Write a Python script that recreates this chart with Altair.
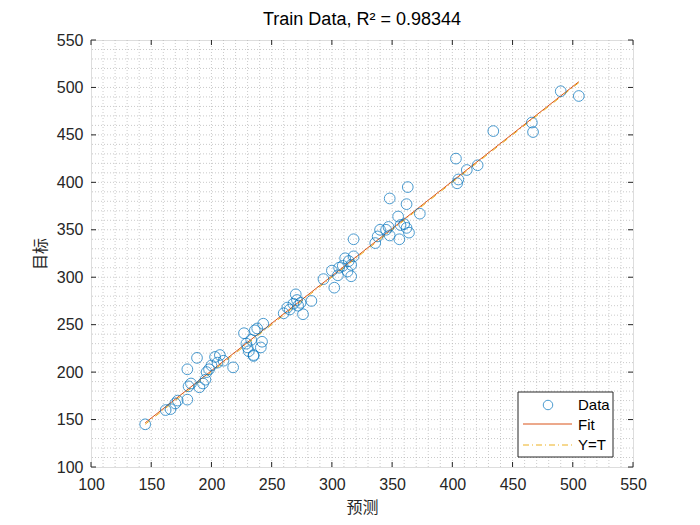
import altair as alt
import pandas as pd
import numpy as np

# ---- data ----
pred = [145, 162, 166, 170, 172, 180, 181, 183, 180, 188, 190, 193, 195, 196, 198,
        200, 203, 205, 207, 210, 218, 227, 229, 230, 231, 233, 235, 236, 238, 241,
        242, 243, 235, 260, 263, 265, 268, 270, 271, 272, 274, 276, 283, 293, 300,
        302, 305, 306, 309, 311, 313, 314, 316, 316, 318, 318, 336, 338, 340, 345,
        347, 348, 348, 355, 356, 357, 360, 362, 362, 363, 364, 373, 403, 404, 405,
        412, 421, 434, 466, 467, 490, 505]
target = [145, 160, 161, 167, 170, 171, 185, 188, 203, 215, 184, 188, 192, 200, 203,
          207, 216, 210, 218, 212, 205, 241, 230, 226, 222, 234, 218, 244, 246, 226,
          232, 251, 217, 262, 268, 266, 272, 282, 276, 270, 273, 261, 275, 298, 307,
          289, 302, 310, 312, 320, 306, 317, 301, 313, 322, 340, 336, 343, 350, 350,
          353, 383, 344, 364, 340, 355, 356, 352, 377, 395, 347, 367, 425, 399, 403,
          413, 418, 454, 463, 453, 496, 491]
major_ticks = [100, 150, 200, 250, 300, 350, 400, 450, 500, 550]
minor_grid = [110, 120, 130, 140, 150, 160, 170, 180, 190, 200, 210, 220, 230, 240,
              250, 260, 270, 280, 290, 300, 310, 320, 330, 340, 350, 360, 370, 380,
              390, 400, 410, 420, 430, 440, 450, 460, 470, 480, 490, 500, 510, 520,
              530, 540]
legend_labels = ["Data", "Fit", "Y=T"]
title_text = "Train Data, R\u00b2 = 0.98344"

W, H = 542, 427
BLUE, ORANGE, YELLOW = "#0072BD", "#D95319", "#EDB120"
FONT = "Liberation Sans"
CJK = "Noto Sans CJK SC"

df = pd.DataFrame({"pred": pred, "target": target})
slope, icpt = np.polyfit(pred, target, 1)
xs = [min(pred), max(pred)]
fit_df = pd.DataFrame({"pred": xs, "target": [slope * v + icpt for v in xs]})
yt_df = pd.DataFrame({"pred": xs, "target": xs})
grid_df = pd.DataFrame({"v": minor_grid})
tick_df = pd.DataFrame({"v": major_ticks})

XS = alt.Scale(domain=[100, 550], nice=False, zero=False)
YS = alt.Scale(domain=[100, 550], nice=False, zero=False)
XA = alt.Axis(values=major_ticks, ticks=False, grid=False, domain=False, title="预测",
              labelFont=FONT, labelFontSize=16, labelColor="#262626", labelPadding=9,
              titleFont=CJK, titleFontSize=16, titleFontWeight="normal",
              titleColor="#262626", titlePadding=7, labelFlush=False)
YA = alt.Axis(values=major_ticks, ticks=False, grid=False, domain=False, title="目标",
              labelFont=FONT, labelFontSize=16, labelColor="#262626", labelPadding=8,
              titleFont=CJK, titleFontSize=16, titleFontWeight="normal",
              titleColor="#262626", titlePadding=8, labelFlush=False)


def X(f):
    return alt.X(f, type="quantitative", scale=XS, axis=XA)


def Y(f):
    return alt.Y(f, type="quantitative", scale=YS, axis=YA)


base_grid = dict(color="#b4b4b4", strokeDash=[1, 2], strokeWidth=1, opacity=0.7)
gx = alt.Chart(grid_df).mark_rule(**base_grid).encode(x=X("v"))
gy = alt.Chart(grid_df).mark_rule(**base_grid).encode(y=Y("v"))

tick_style = dict(color="#262626", strokeWidth=1)
tb = alt.Chart(tick_df).mark_rule(**tick_style).encode(x=X("v"), y=alt.value(H), y2=alt.value(H - 5))
tt = alt.Chart(tick_df).mark_rule(**tick_style).encode(x=X("v"), y=alt.value(0), y2=alt.value(5))
tl = alt.Chart(tick_df).mark_rule(**tick_style).encode(y=Y("v"), x=alt.value(0), x2=alt.value(5))
tr = alt.Chart(tick_df).mark_rule(**tick_style).encode(y=Y("v"), x=alt.value(W), x2=alt.value(W - 5))

pts = alt.Chart(df).mark_point(shape="circle", filled=False, color=BLUE, size=115,
                               strokeWidth=1).encode(x=X("pred"), y=Y("target"))
fit = alt.Chart(fit_df).mark_line(color=ORANGE, strokeWidth=1).encode(x=X("pred"), y=Y("target"))
yt = alt.Chart(yt_df).mark_line(color=YELLOW, strokeWidth=1, strokeDash=[6, 3, 1, 3]).encode(
    x=X("pred"), y=Y("target"))

# ---- manual legend (bottom right, inside the axes) ----
LX0, LX1, LY0, LY1 = 427, 522, 352, 417
leg_df = pd.DataFrame({"label": legend_labels})
box = alt.Chart(leg_df.head(1)).mark_rect(fill="white", stroke="#262626", strokeWidth=1).encode(
    x=alt.value(LX0), x2=alt.value(LX1), y=alt.value(LY0), y2=alt.value(LY1))
leg_pt = alt.Chart(leg_df.head(1)).mark_point(shape="circle", filled=False, color=BLUE,
                                              size=90, strokeWidth=1).encode(
    x=alt.value(457), y=alt.value(365))
leg_fit = alt.Chart(leg_df.head(1)).mark_rule(color=ORANGE, strokeWidth=1).encode(
    x=alt.value(432), x2=alt.value(481), y=alt.value(384))
leg_yt = alt.Chart(leg_df.head(1)).mark_rule(color=YELLOW, strokeWidth=1,
                                             strokeDash=[6, 3, 1, 3]).encode(
    x=alt.value(432), x2=alt.value(481), y=alt.value(405))
leg_texts = []
for lab, yy in zip(legend_labels, [365, 385, 405]):
    leg_texts.append(
        alt.Chart(leg_df).transform_filter(alt.datum.label == lab).mark_text(
            align="left", baseline="middle", font=FONT, fontSize=15, color="#000000"
        ).encode(x=alt.value(487), y=alt.value(yy), text="label:N"))

chart = alt.layer(gx, gy, tb, tt, tl, tr, fit, yt, pts, box, leg_pt, leg_fit, leg_yt,
                  *leg_texts).properties(
    width=W, height=H,
    title=alt.TitleParams(title_text, font=FONT, fontSize=18, fontWeight="normal",
                          color="#000000", offset=3, anchor="middle"),
    autosize=alt.AutoSizeParams(type="none"),
    padding={"left": 91, "top": 40, "right": 67, "bottom": 58},
).configure_view(stroke="#262626", strokeWidth=1).configure(background="white")

chart.save("out.html", embed_options={"renderer": "svg", "actions": False})
